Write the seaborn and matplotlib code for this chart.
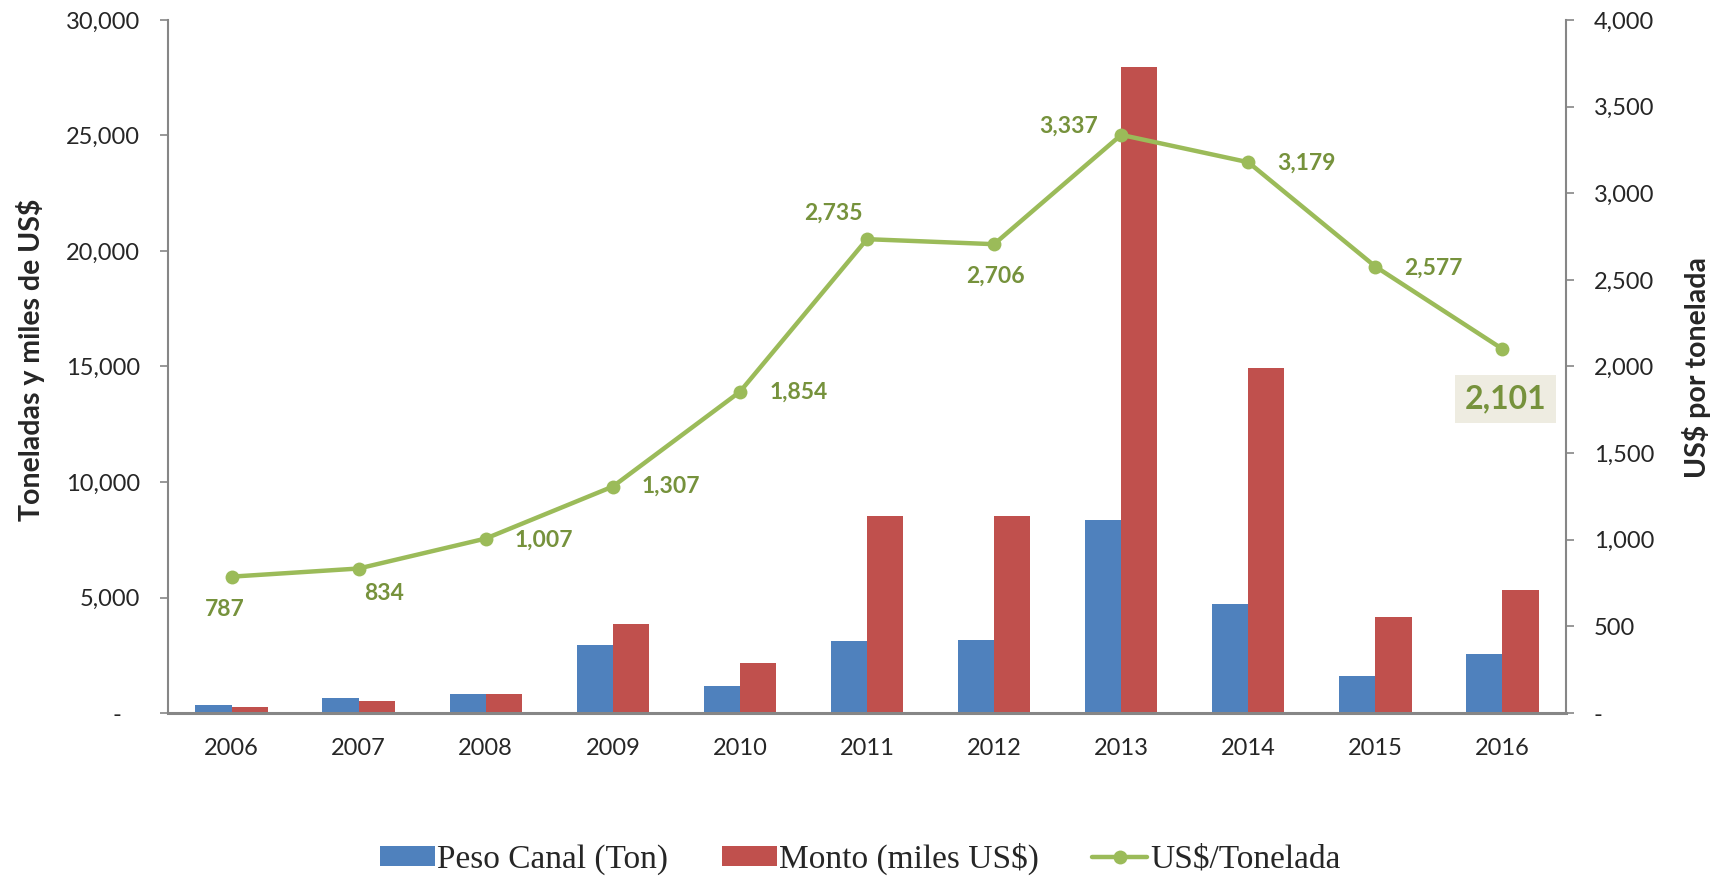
import matplotlib
matplotlib.use("Agg")
import matplotlib.pyplot as plt
from matplotlib.ticker import FuncFormatter, MultipleLocator, FixedLocator
import numpy as np
import pandas as pd
import seaborn as sns

# data
years = ["2006", "2007", "2008", "2009", "2010", "2011", "2012", "2013", "2014", "2015", "2016"]
peso_canal = [360, 630, 815, 2940, 1170, 3120, 3160, 8360, 4700, 1610, 2540]
monto = [280, 530, 835, 3850, 2180, 8530, 8530, 27950, 14950, 4160, 5320]
precio = [787, 834, 1007, 1307, 1854, 2735, 2706, 3337, 3179, 2577, 2101]
serie_names = ["Peso Canal (Ton)", "Monto (miles US$)", "US$/Tonelada"]

# label offsets (points) for the price labels
label_offsets = [(-5, -24), (18, -18), (42, -1), (42, 0), (42, 0), (-24, 19),
                 (1, -23), (-38, 6), (42, -1), (42, -1), (2, -36)]

BLUE = "#4F81BD"
RED = "#C0504D"
GREEN = "#9BBB59"
GREEN_TXT = "#76923C"
GRAY = "#868686"

sns.set_style("white")
plt.rcParams["font.family"] = ["Lato", "DejaVu Sans"]

df = pd.DataFrame({
    "year": years * 2,
    "value": peso_canal + monto,
    "serie": [serie_names[0]] * len(years) + [serie_names[1]] * len(years),
})

fig = plt.figure(figsize=(17.2, 8.8), dpi=100)
W, H = 1720, 880
left, right, top, bottom = 168, 1566, 20, 713
ax = fig.add_axes([left / W, 1 - bottom / H, (right - left) / W, (bottom - top) / H])

sns.barplot(data=df, x="year", y="value", hue="serie", palette=[BLUE, RED],
            width=0.57, saturation=1, linewidth=0, ax=ax)
ax.set_xlim(-0.5, len(years) - 0.5)
ax.set_ylim(0, 30000)
ax.yaxis.set_major_locator(MultipleLocator(5000))

def fmt_left(v, pos):
    return "-   " if v == 0 else f"{v:,.0f}"

ax.yaxis.set_major_formatter(FuncFormatter(fmt_left))
ax.set_xlabel("")
ax.set_ylabel("Toneladas y miles de US$", fontsize=20.5, fontweight="bold", va="center")
ax.yaxis.set_label_coords(-0.0987, 0.509)

# category boundaries as tick marks
ax.xaxis.set_minor_locator(FixedLocator(np.arange(-0.5, len(years), 1.0)))
ax.tick_params(axis="x", which="major", length=0, pad=18, labelsize=17)
ax.tick_params(axis="x", which="minor", length=6, width=1.5, color=GRAY, direction="out")
ax.tick_params(axis="y", length=6, width=1.2, color=GRAY, direction="out", pad=14, labelsize=17, left=True)

for s in ["top", "right"]:
    ax.spines[s].set_visible(False)
ax.spines["left"].set_color(GRAY)
ax.spines["left"].set_linewidth(1.5)
ax.spines["bottom"].set_color(GRAY)
ax.spines["bottom"].set_linewidth(2.2)

handles, labels = ax.get_legend_handles_labels()
ax.get_legend().remove()

# price line on secondary axis
ax2 = ax.twinx()
x_pos = np.arange(len(years))
sns.lineplot(x=x_pos, y=precio, ax=ax2, color=GREEN, linewidth=3.2, marker="o",
             markersize=10, markeredgewidth=0, label=serie_names[2], legend=False)
ax2.set_ylim(0, 4000)
ax2.yaxis.set_major_locator(MultipleLocator(500))
ax2.yaxis.set_major_formatter(FuncFormatter(lambda v, p: "-" if v == 0 else f"{v:,.0f}"))
ax2.tick_params(axis="y", length=6, width=1.2, color=GRAY, direction="out", pad=14, labelsize=17, right=True)
ax2.set_ylabel("US$ por tonelada", fontsize=20.5, fontweight="bold", va="center")
ax2.yaxis.set_label_coords(1.0937, 0.498)
for s in ["top", "left", "bottom"]:
    ax2.spines[s].set_visible(False)
ax2.spines["right"].set_color(GRAY)
ax2.spines["right"].set_linewidth(1.5)

for i, (xv, yv) in enumerate(zip(x_pos, precio)):
    dx, dy = label_offsets[i]
    if i == len(precio) - 1:
        ax2.annotate(f"{yv:,}", (xv, yv), xytext=(dx, dy), textcoords="offset points",
                     ha="center", va="center", fontsize=23, fontweight="bold", color=GREEN_TXT,
                     bbox=dict(boxstyle="square,pad=0.3", fc="#EEECE1", ec="none"))
    else:
        ax2.annotate(f"{yv:,}", (xv, yv), xytext=(dx, dy), textcoords="offset points",
                     ha="center", va="center", fontsize=16.5, fontweight="bold", color=GREEN_TXT)

h2, l2 = ax2.get_legend_handles_labels()
fig.legend(handles + h2, labels + l2, loc="center", bbox_to_anchor=(0.5, 1 - 859 / H),
           ncol=3, frameon=False, prop={"family": "Liberation Serif", "size": 24},
           handlelength=1.65, handleheight=0.55, handletextpad=0.08, columnspacing=1.6)

fig.savefig("out.png", dpi=100)
